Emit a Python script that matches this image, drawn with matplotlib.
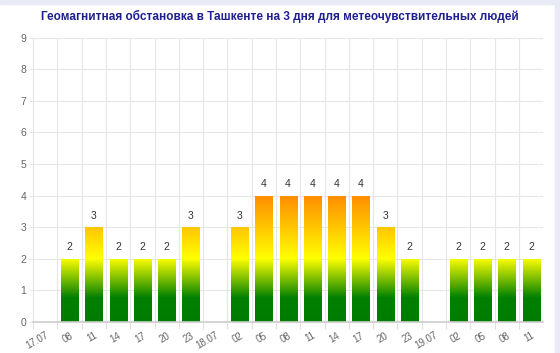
import numpy as np
import matplotlib.pyplot as plt
from matplotlib.colors import LinearSegmentedColormap
from matplotlib.patches import Rectangle

plt.rcParams['font.family'] = ['Liberation Sans', 'DejaVu Sans']

labels = ['17.07', '08', '11', '14', '17', '20', '23',
          '18.07', '02', '05', '08', '11', '14', '17', '20', '23',
          '19.07', '02', '05', '08', '11']
kp = [np.nan, 2, 3, 2, 2, 2, 3,
      np.nan, 3, 4, 4, 4, 4, 4, 3, 2,
      np.nan, 2, 2, 2, 2]

title = 'Геомагнитная обстановка в Ташкенте на 3 дня для метеочувствительных людей'

# colour by kp value: green at bottom, yellow at 2, orange at 4
cmap = LinearSegmentedColormap.from_list('kp', [
    (0.0, '#007d00'), (0.75 / 4, '#008000'), (2 / 4, '#ffff00'), (1.0, '#ff8c00')])

fig = plt.figure(figsize=(5.6, 3.53), dpi=100)
fig.patches.append(Rectangle((0, 0.988), 1, 0.012, transform=fig.transFigure,
                             color='#e8eaf6', zorder=0))
fig.patches.append(Rectangle((0.991, 0), 0.009, 1, transform=fig.transFigure,
                             color='#e8eaf6', zorder=0))

ax = fig.add_axes([0.059, 0.088, 0.911, 0.805])
x = np.arange(len(labels))
bars = ax.bar(x, np.nan_to_num(kp), width=0.7, color='none', zorder=2)

grad = np.linspace(0, 1, 256).reshape(-1, 1)
for b, v in zip(bars, kp):
    if np.isnan(v):
        continue
    im = ax.imshow(grad, cmap=cmap, origin='lower', aspect='auto',
                   extent=(b.get_x(), b.get_x() + b.get_width(), 0, 4),
                   vmin=0, vmax=1, zorder=2)
    im.set_clip_path(b)
    ax.text(b.get_x() + b.get_width() / 2, v + 0.2, f'{int(v)}',
            ha='center', va='bottom', fontsize=7.5, color='#333333', zorder=3)

ax.set_xlim(-0.5, len(labels) - 0.5)
ax.set_ylim(0, 9)

ax.set_xticks(np.arange(-0.5, len(labels) - 1, 1))
ax.set_xticklabels([])
ax.set_xticks(x, minor=True)
ax.set_xticklabels(labels, minor=True, rotation=30, ha='right',
                   rotation_mode='anchor', fontsize=7, color='#666666')
ax.tick_params(axis='x', which='major', length=5, color='#e0e0e0')
ax.tick_params(axis='x', which='minor', length=0, pad=6)
ax.set_yticks(range(10))
ax.tick_params(axis='y', length=3, color='#e6e6e6', labelsize=7.5,
               labelcolor='#666666', pad=2)

ax.grid(True, which='major', color='#e6e6e6', linewidth=0.8, zorder=0)
ax.set_axisbelow(True)
for s in ['top', 'right']:
    ax.spines[s].set_visible(False)
ax.spines['left'].set_color('#e6e6e6')
ax.spines['bottom'].set_color('#cccccc')
ax.spines['bottom'].set_linewidth(1.2)

fig.text(0.5, 0.952, title, ha='center', va='center', fontsize=8.5,
         fontweight='bold', color='#1f1f8f')

fig.savefig('out.png', dpi=100)
